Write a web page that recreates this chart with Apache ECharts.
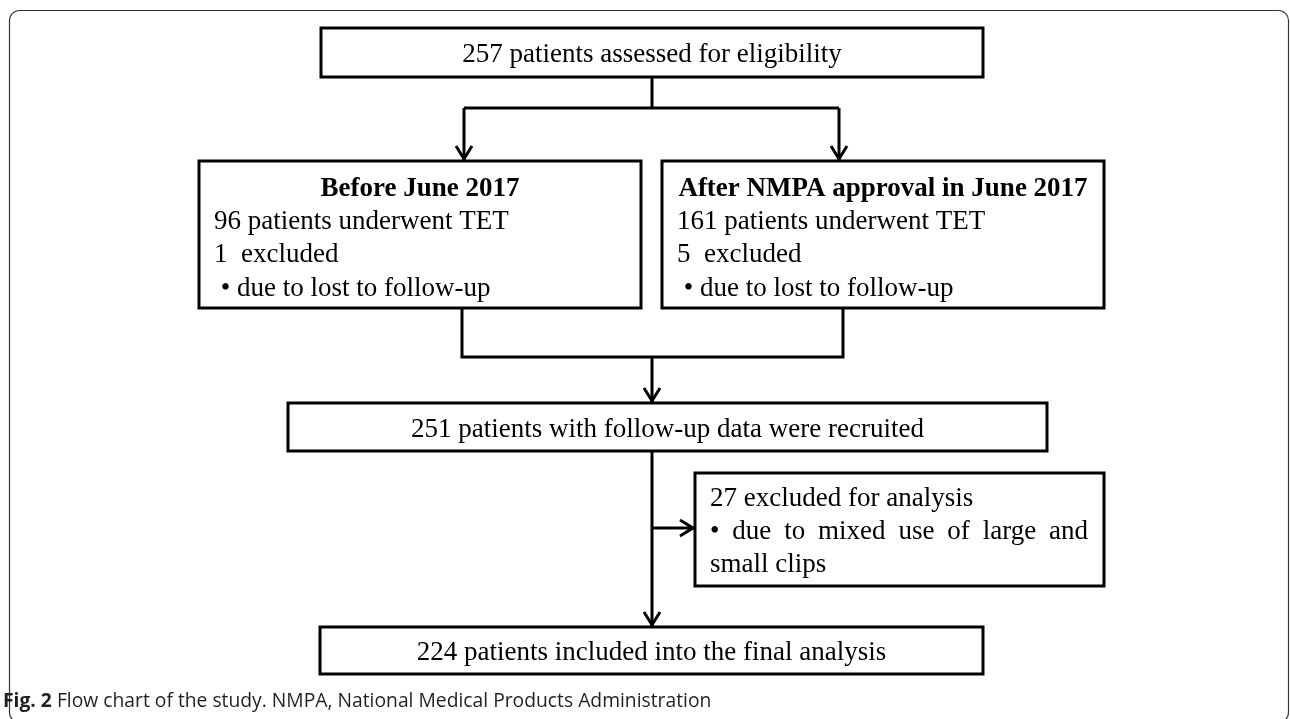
<!DOCTYPE html>
<html>
<head>
<meta charset="utf-8">
<title>Flow chart of the study</title>
<script src="https://cdn.jsdelivr.net/npm/echarts@6/dist/echarts.min.js"></script>
<style>
	html, body { margin: 0; padding: 0; background: #fff; }
	#main { width: 1290px; height: 719px; }
</style>
</head>
<body>
<div id="main"></div>
<script type="text/javascript">
	// numbers
	var assessed = 257;
	var periods = ['Before June 2017', 'After NMPA approval in June 2017'];
	var underwent = [96, 161];
	var lostFollowUp = [1, 5];
	var recruited = 251;
	var excludedClips = 27;
	var included = 224;
	var caption = ['Fig. 2', 'Flow chart of the study. NMPA, National Medical Products Administration'];

	// layout: boxes in page pixels [x0, y0, x1, y1]
	var boxes = [
		[321, 28, 983, 77],
		[199, 161, 641, 308],
		[662, 161, 1104, 308],
		[288, 403, 1047, 451],
		[695, 473, 1104, 586],
		[320, 627, 983, 674]
	];
	// lines of text in each box (c = centred, b = bold, j = justified, dy = offset from box top)
	var boxLines = [
		[{t: assessed + ' patients assessed for eligibility', c: 1, dy: 27}],
		[{t: periods[0], c: 1, b: 1, dy: 28},
		 {t: underwent[0] + ' patients underwent TET', dy: 61},
		 {t: lostFollowUp[0] + '  excluded', dy: 94},
		 {t: ' \u2022 due to lost to follow-up', dy: 128}],
		[{t: periods[1], c: 1, b: 1, dy: 28},
		 {t: underwent[1] + ' patients underwent TET', dy: 61},
		 {t: lostFollowUp[1] + '  excluded', dy: 94},
		 {t: ' \u2022 due to lost to follow-up', dy: 128}],
		[{t: recruited + ' patients with follow-up data were recruited', c: 1, dy: 27}],
		[{t: excludedClips + ' excluded for analysis', dy: 26},
		 {t: '\u2022 due to mixed use of large and', j: 1, dy: 59},
		 {t: 'small clips', dy: 92}],
		[{t: included + ' patients included into the final analysis', c: 1, dy: 26}]
	];
	// connectors: polylines, arrow = arrowhead at the last point
	var links = [
		{pts: [[652, 77], [652, 108]]},
		{pts: [[464, 108], [839, 108]]},
		{pts: [[464, 108], [464, 161]], arrow: 1},
		{pts: [[839, 108], [839, 161]], arrow: 1},
		{pts: [[462, 308], [462, 357], [843, 357], [843, 308]]},
		{pts: [[652, 357], [652, 403]], arrow: 1},
		{pts: [[652, 451], [652, 627]], arrow: 1},
		{pts: [[652, 528], [695, 528]], arrow: 1}
	];

	var serif = '"Liberation Serif", "Times New Roman", serif';
	var fontSize = 27;
	var pad = 15;
	var measure = document.createElement('canvas').getContext('2d');

	function textWidth(s, bold) {
		measure.font = (bold ? 'bold ' : '') + fontSize + 'px ' + serif;
		return measure.measureText(s).width;
	}

	function textEl(x, y, s, align, bold) {
		return {
			type: 'text',
			x: x, y: y,
			style: {
				text: s,
				fill: '#000',
				fontSize: fontSize,
				fontFamily: serif,
				fontWeight: bold ? 'bold' : 'normal',
				align: align,
				verticalAlign: 'middle'
			}
		};
	}

	function renderBox(params, api) {
		var i = api.value(4);
		var p0 = api.coord([api.value(0), api.value(1)]);
		var p1 = api.coord([api.value(2), api.value(3)]);
		var children = [{
			type: 'rect',
			shape: {x: p0[0], y: p0[1], width: p1[0] - p0[0], height: p1[1] - p0[1]},
			style: {fill: '#fff', stroke: '#000', lineWidth: 3}
		}];
		boxLines[i].forEach(function (ln) {
			var y = p0[1] + ln.dy;
			if (ln.c) {
				children.push(textEl((p0[0] + p1[0]) / 2, y, ln.t, 'center', ln.b));
			} else if (ln.j) {
				// spread the words over the full inner width
				var words = ln.t.split(' ');
				var left = p0[0] + pad, right = p1[0] - pad - 1;
				var total = 0;
				words.forEach(function (w) { total += textWidth(w); });
				var gap = (right - left - total) / (words.length - 1);
				var x = left;
				words.forEach(function (w) {
					children.push(textEl(x, y, w, 'left'));
					x += textWidth(w) + gap;
				});
			} else {
				children.push(textEl(p0[0] + pad, y, ln.t, 'left', ln.b));
			}
		});
		return {type: 'group', children: children};
	}

	function renderLink(params, api) {
		var lk = links[api.value(0)];
		var pts = lk.pts.map(function (p) { return api.coord(p); });
		var children = [{
			type: 'polyline',
			shape: {points: pts},
			style: {stroke: '#000', lineWidth: 3, fill: null, lineJoin: 'miter', lineCap: 'butt'}
		}];
		if (lk.arrow) {
			var a = pts[pts.length - 2], b = pts[pts.length - 1];
			var dx = b[0] - a[0], dy = b[1] - a[1];
			var len = Math.sqrt(dx * dx + dy * dy);
			dx /= len; dy /= len;
			var tip = [b[0] - dx * 2, b[1] - dy * 2];
			var back = 13, half = 8;
			children.push({
				type: 'polyline',
				shape: {points: [
					[tip[0] - dx * back - dy * half, tip[1] - dy * back + dx * half],
					tip,
					[tip[0] - dx * back + dy * half, tip[1] - dy * back - dx * half]
				]},
				style: {stroke: '#000', lineWidth: 3, fill: null, lineJoin: 'miter'}
			});
		}
		return {type: 'group', children: children};
	}

	var myChart = echarts.init(document.getElementById('main'), null, {renderer: 'canvas'});
	var option = {
		animation: false,
		backgroundColor: '#fff',
		grid: {left: 0, right: 0, top: 0, bottom: 0},
		xAxis: {type: 'value', min: 0, max: 1290, show: false},
		yAxis: {type: 'value', min: 0, max: 719, inverse: true, show: false},
		title: {
			text: '{b|' + caption[0] + '} ' + caption[1],
			left: 3,
			top: 692,
			padding: 0,
			textStyle: {
				fontFamily: '"Open Sans", sans-serif',
				fontSize: 19.3,
				fontWeight: 'normal',
				color: '#231f20',
				rich: {
					b: {fontFamily: '"Open Sans", sans-serif', fontSize: 19.3, fontWeight: 'bold', color: '#231f20'}
				}
			}
		},
		graphic: [{
			type: 'rect',
			silent: true,
			z: -1,
			shape: {x: 9.5, y: 10.5, width: 1279, height: 712, r: 10},
			style: {fill: null, stroke: '#333', lineWidth: 1.2}
		}],
		series: [
			{
				type: 'custom',
				name: 'links',
				silent: true,
				renderItem: renderLink,
				data: links.map(function (l, i) { return [i]; }),
				z: 1
			},
			{
				type: 'custom',
				name: 'boxes',
				silent: true,
				renderItem: renderBox,
				encode: {x: [0, 2], y: [1, 3]},
				data: boxes.map(function (b, i) { return [b[0], b[1], b[2], b[3], i]; }),
				z: 2
			}
		]
	};
	myChart.setOption(option);
</script>
</body>
</html>
